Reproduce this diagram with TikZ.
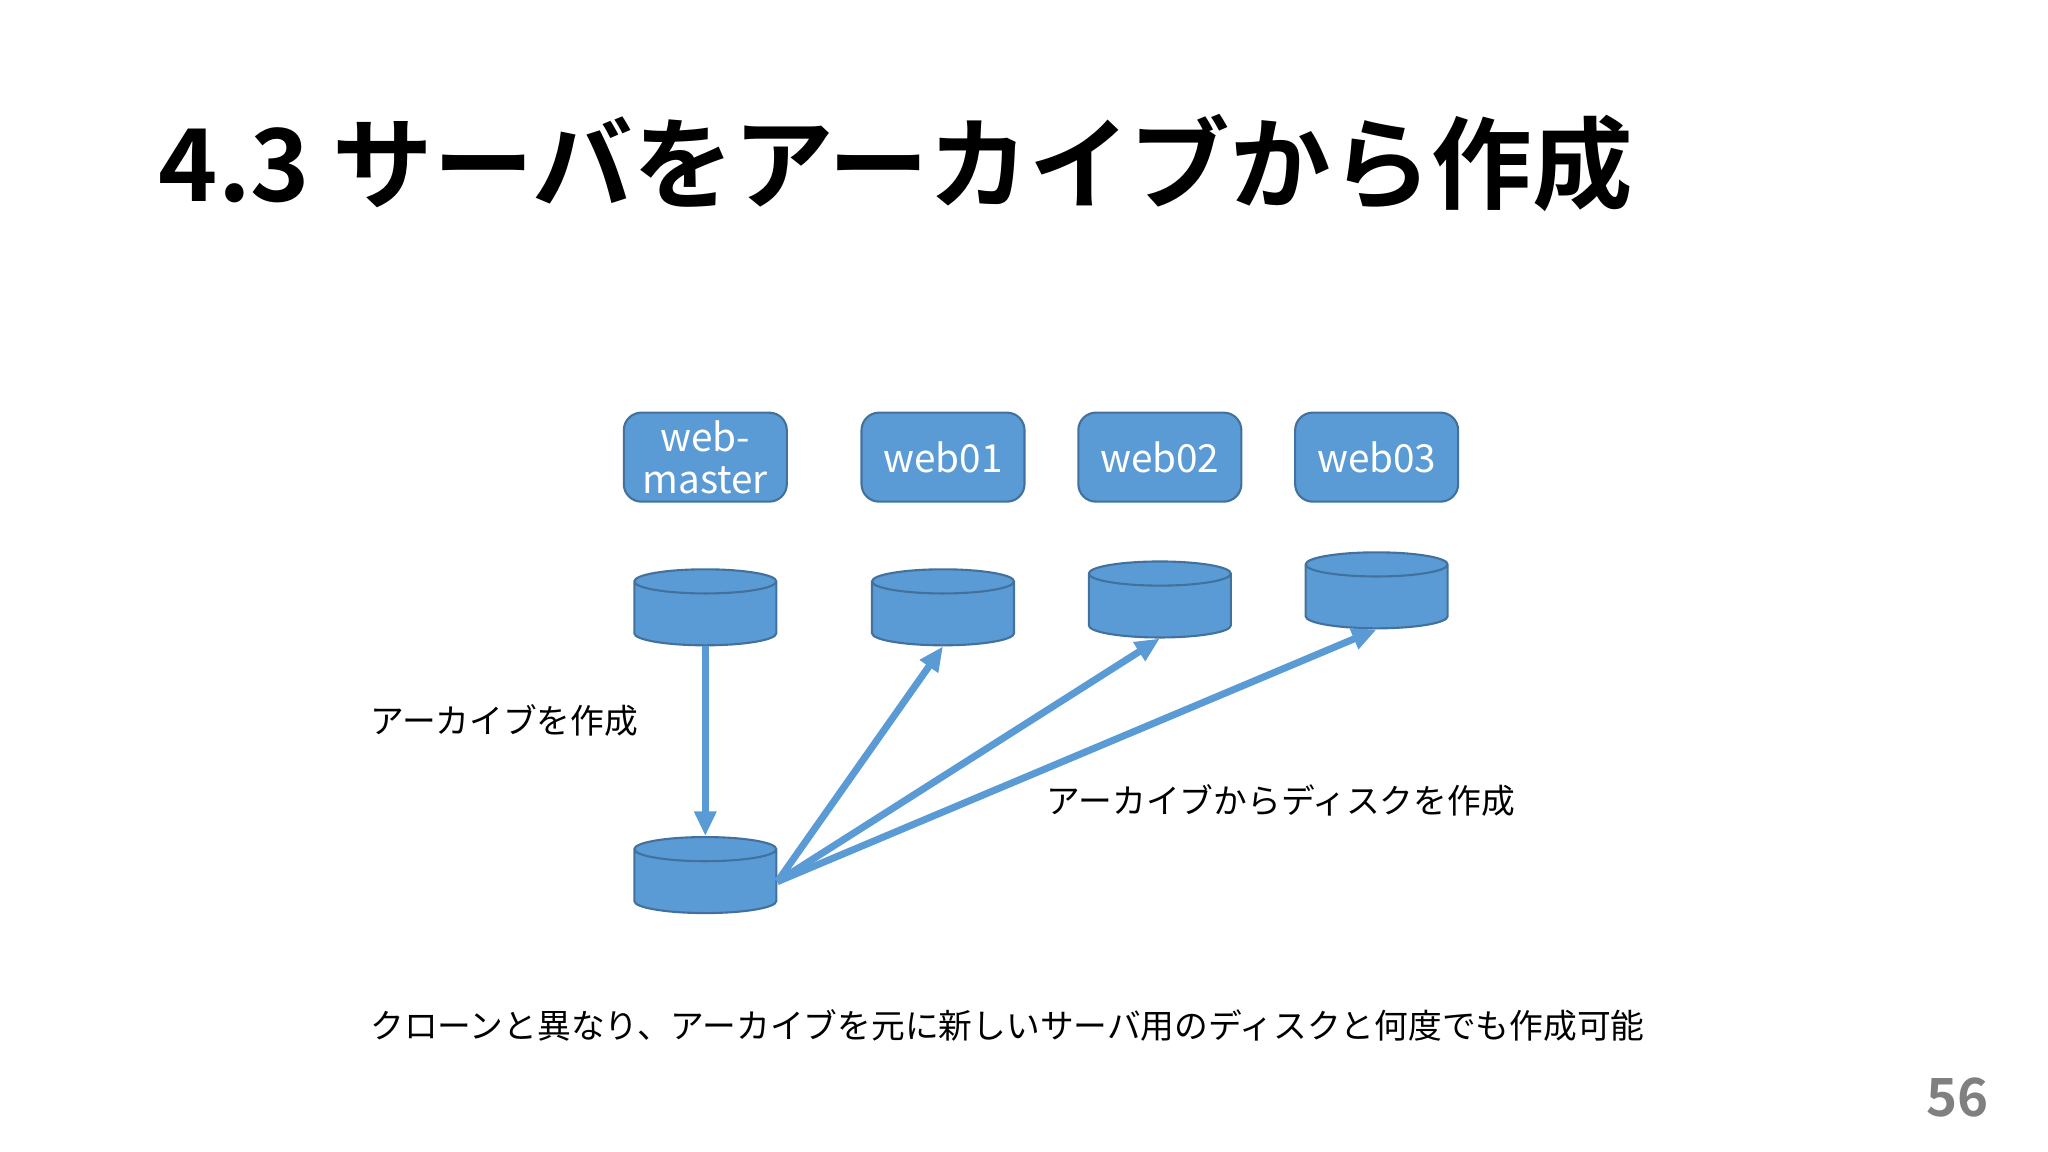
\documentclass[tikz,border=0pt]{standalone}
\usepackage{fontspec}
\setmainfont{Noto Sans CJK JP}
\newfontfamily\titlefont{Noto Sans CJK JP Bold}
\usetikzlibrary{shapes.geometric,arrows.meta}
\definecolor{boxblue}{HTML}{5B9BD5}
\definecolor{boxline}{HTML}{41719C}
\begin{document}
\begin{tikzpicture}[x=0.01306cm,y=-0.01306cm,
    server/.style = {draw=boxline, fill=boxblue, rounded corners=5pt, line width=0.6pt,
        minimum width=1.63cm, minimum height=0.89cm, text=white, align=center,
        font=\fontsize{11}{12}\selectfont, inner sep=1pt},
    disk/.style = {cylinder, shape border rotate=90, draw=boxline, fill=boxblue, line width=0.6pt,
        minimum height=0.76cm, aspect=0.17, inner sep=0pt},
    link/.style = {draw=boxblue, line width=2pt, -{Triangle[length=7pt,width=6pt]}},
    note/.style = {font=\fontsize{9.6}{11}\selectfont, anchor=west}]
    \useasboundingbox (0,0) rectangle (1568,882);
    \node[anchor=west, font=\titlefont\fontsize{28.6}{30}\selectfont] (title) at (112,125) {4.3 サーバをアーカイブから作成};
    % servers
    \node[server] (master) at (540,350) {web-\\master};
    \node[server] (web1) at (722,350) {web01};
    \node[server] (web2) at (888,350) {web02};
    \node[server] (web3) at (1054,350) {web03};
    % disks
    \node[disk] (dmaster) at (540,470) {\phantom{\rule{1.42cm}{0.3cm}}};
    \node[disk] (d1) at (722,470) {\phantom{\rule{1.42cm}{0.3cm}}};
    \node[disk] (d2) at (888,464) {\phantom{\rule{1.42cm}{0.3cm}}};
    \node[disk] (d3) at (1054,457) {\phantom{\rule{1.42cm}{0.3cm}}};
    \node[disk] (archive) at (540,675) {\phantom{\rule{1.42cm}{0.3cm}}};
    % arrows
    \draw[link] (dmaster.bottom) -- (archive.top);
    \draw[link] (archive.east) -- (d1.bottom);
    \draw[link] (archive.east) -- (d2.bottom);
    \draw[link] (archive.east) -- (d3.bottom);
    % texts
    \node[note] (lbl1) at (274,552) {アーカイブを作成};
    \node[note] (lbl2) at (792,613) {アーカイブからディスクを作成};
    \node[note] (summary) at (274,785) {クローンと異なり、アーカイブを元に新しいサーバ用のディスクと何度でも作成可能};
    \node[anchor=east, text=gray, font=\titlefont\fontsize{15}{16}\selectfont] (page) at (1532,840) {56};
\end{tikzpicture}
\end{document}
